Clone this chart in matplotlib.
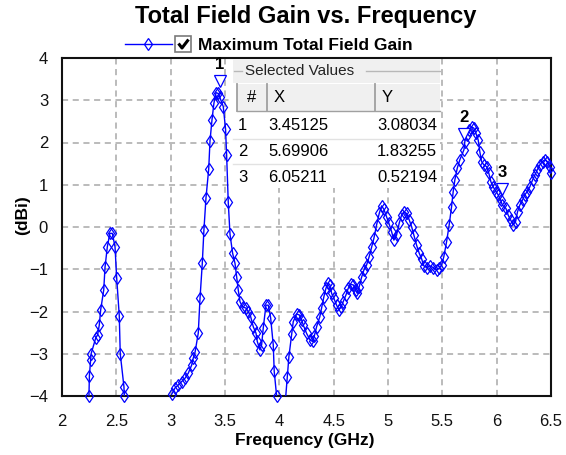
import numpy as np
import matplotlib.pyplot as plt
from matplotlib.patches import Rectangle
from matplotlib.transforms import offset_copy

plt.rcParams['font.family'] = ['Liberation Sans', 'DejaVu Sans']

# band around 2.45 GHz
freq_1 = [2.248, 2.252, 2.264, 2.268, 2.310, 2.328, 2.343, 2.356, 2.384, 2.396,
          2.417, 2.440, 2.463, 2.488, 2.503, 2.527, 2.536, 2.570, 2.573]
gain_1 = [-4.00, -3.52, -3.15, -3.00, -2.63, -2.55, -2.32, -1.96, -1.49, -0.95,
          -0.47, -0.15, -0.15, -0.47, -1.20, -2.10, -3.00, -3.78, -4.00]

# band around 3.45 GHz
freq_2 = [3.009, 3.040, 3.070, 3.101, 3.132, 3.162, 3.193, 3.208, 3.224, 3.254,
          3.270, 3.291, 3.306, 3.325, 3.350, 3.362, 3.380, 3.398, 3.417, 3.438,
          3.451, 3.484, 3.505, 3.515, 3.530, 3.546, 3.570, 3.592, 3.607, 3.622,
          3.638, 3.662, 3.693, 3.714, 3.736, 3.760, 3.785, 3.797, 3.822, 3.837,
          3.852, 3.877, 3.898, 3.920, 3.944, 3.953, 3.975]
gain_2 = [-3.96, -3.81, -3.74, -3.66, -3.58, -3.46, -3.27, -3.10, -2.97, -2.51,
          -1.69, -0.86, -0.07, 0.69, 1.37, 2.04, 2.53, 2.93, 3.18, 3.16,
          3.08, 2.85, 2.32, 1.70, 0.58, -0.17, -0.62, -0.86, -1.18, -1.49,
          -1.77, -1.89, -1.92, -2.00, -2.12, -2.36, -2.51, -2.71, -2.91, -2.79,
          -2.39, -1.85, -1.85, -2.15, -2.79, -3.42, -4.00]

# 4 - 6.5 GHz
freq_3 = [4.050, 4.073, 4.088, 4.113, 4.128, 4.159, 4.183, 4.205, 4.220, 4.251,
          4.282, 4.306, 4.321, 4.343, 4.373, 4.389, 4.410, 4.429, 4.450, 4.466,
          4.481, 4.502, 4.527, 4.548, 4.567, 4.588, 4.613, 4.634, 4.656, 4.680,
          4.702, 4.717, 4.735, 4.757, 4.778, 4.803, 4.827, 4.849, 4.870, 4.895,
          4.919, 4.941, 4.962, 4.987, 5.008, 5.033, 5.054, 5.079, 5.103, 5.125,
          5.146, 5.171, 5.195, 5.217, 5.238, 5.263, 5.287, 5.309, 5.330, 5.355,
          5.385, 5.416, 5.447, 5.470, 5.493, 5.514, 5.539, 5.563, 5.585, 5.600,
          5.615, 5.637, 5.661, 5.699, 5.707, 5.723, 5.747, 5.769, 5.790, 5.809,
          5.830, 5.845, 5.861, 5.882, 5.907, 5.928, 5.947, 5.968, 5.993, 6.014,
          6.036, 6.052, 6.085, 6.106, 6.128, 6.152, 6.174, 6.192, 6.213, 6.238,
          6.259, 6.281, 6.305, 6.330, 6.351, 6.373, 6.397, 6.422, 6.443, 6.465,
          6.489, 6.500]
gain_3 = [-4.30, -3.56, -3.07, -2.54, -2.24, -2.06, -2.08, -2.20, -2.32, -2.52,
          -2.67, -2.71, -2.59, -2.36, -2.12, -1.92, -1.65, -1.45, -1.33, -1.37,
          -1.57, -1.69, -1.85, -1.96, -1.90, -1.77, -1.61, -1.45, -1.36, -1.37,
          -1.49, -1.57, -1.41, -1.19, -1.02, -0.90, -0.70, -0.48, -0.27, 0.05,
          0.32, 0.50, 0.42, 0.24, 0.09, -0.11, -0.31, -0.19, 0.09, 0.28,
          0.36, 0.32, 0.17, 0.01, -0.19, -0.43, -0.62, -0.75, -0.92, -0.96,
          -0.92, -0.96, -1.02, -0.98, -0.90, -0.70, -0.35, 0.05, 0.48, 0.84,
          1.11, 1.39, 1.59, 1.83, 2.02, 2.18, 2.30, 2.37, 2.34, 2.22,
          2.06, 1.78, 1.55, 1.47, 1.43, 1.27, 1.07, 0.95, 0.84, 0.76,
          0.64, 0.52, 0.44, 0.28, 0.17, 0.05, 0.13, 0.36, 0.52, 0.64,
          0.76, 0.84, 0.95, 1.11, 1.23, 1.35, 1.47, 1.55, 1.59, 1.55,
          1.43, 1.27]

sel_id = ['1', '2', '3']
sel_x = [3.45125, 5.69906, 6.05211]
sel_y = [3.08034, 1.83255, 0.52194]

x_ticks = [2, 2.5, 3, 3.5, 4, 4.5, 5, 5.5, 6, 6.5]
x_labels = ['2', '2.5', '3', '3.5', '4', '4.5', '5', '5.5', '6', '6.5']
y_ticks = [-4, -3, -2, -1, 0, 1, 2, 3, 4]

BLUE = '#0000ff'
W, H = 566, 455

freq = np.concatenate([freq_1, [np.nan], freq_2, [np.nan], freq_3])
gain = np.concatenate([gain_1, [np.nan], gain_2, [np.nan], gain_3])

fig = plt.figure(figsize=(W / 100, H / 100), dpi=100)
ax = fig.add_axes([62 / W, 1 - 396 / H, (551 - 62) / W, (396 - 58) / H])

ax.plot(freq, gain, color=BLUE, lw=1.0, zorder=3)
vis = gain >= -4
ax.plot(freq[vis], gain[vis], ls='none', marker='d', ms=6.5, mfc='none',
        mec=BLUE, mew=0.9, clip_on=False, zorder=4)

# marker triangles + labels
tri_tr = offset_copy(ax.transData, fig=fig, x=0, y=16, units='dots')
txt_tr = offset_copy(ax.transData, fig=fig, x=0, y=32, units='dots')
for i, sx, sy in zip(sel_id, sel_x, sel_y):
    ax.plot(sx, sy, marker='v', ms=9, mfc='white', mec=BLUE, mew=0.9,
            transform=tri_tr, clip_on=False, zorder=5)
    ax.text(sx, sy, i, transform=txt_tr, ha='center', va='center',
            fontsize=12, fontweight='bold', clip_on=False, zorder=5)

ax.set_xlim(2, 6.5)
ax.set_ylim(-4, 4)
ax.set_xticks(x_ticks)
ax.set_xticklabels(x_labels)
ax.set_yticks(y_ticks)
ax.grid(True, color='#a8a8a8', ls=(0, (4, 3)), lw=1.1)
ax.tick_params(length=0, labelsize=12, colors='#111111')
ax.tick_params(axis='x', pad=13)
ax.tick_params(axis='y', pad=10)
for s in ax.spines.values():
    s.set_linewidth(1.5)
    s.set_color('#111111')

fig.text(306 / W, 1 - 17 / H, 'Total Field Gain vs. Frequency', ha='center',
         va='center', fontsize=17, fontweight='bold')
fig.text(305 / W, 1 - 441 / H, 'Frequency (GHz)', ha='center', va='center',
         fontsize=12.5, fontweight='bold')
fig.text(23 / W, 1 - 215 / H, '(dBi)', ha='center', va='center', rotation=90,
         fontsize=12.5, fontweight='bold')

# overlay in pixel coordinates for legend and value box
ov = fig.add_axes([0, 0, 1, 1], zorder=10)
ov.set_xlim(0, W)
ov.set_ylim(H, 0)
ov.axis('off')

ov.plot([125, 172], [44, 44], color=BLUE, lw=1.0)
ov.plot([148], [44], marker='d', ms=6.5, mfc='none', mec=BLUE, mew=0.9)
ov.add_patch(Rectangle((175, 36), 16, 16, fc='white', ec='#7a7a7a', lw=1.2))
ov.plot([178.5, 182, 188.5], [43.5, 48, 39.5], color='black', lw=2.2,
        solid_capstyle='butt')
ov.text(198, 45, 'Maximum Total Field Gain', ha='left', va='center',
        fontsize=12.5, fontweight='bold')

# Selected Values box
ov.add_patch(Rectangle((233, 59), 207, 129, fc='white', ec='none'))
ov.add_patch(Rectangle((233, 59), 207, 24, fc='#f0f0f0', ec='none'))
ov.plot([234, 242], [71, 71], color='#b8b8b8', lw=1)
ov.plot([366, 440], [71, 71], color='#b8b8b8', lw=1)
ov.text(245, 71, 'Selected Values', ha='left', va='center', fontsize=11,
        color='#222222')
ov.add_patch(Rectangle((237, 84), 203, 27, fc='#f0f0f0', ec='none'))
ov.plot([237, 440], [111, 111], color='#a0a0a0', lw=1)
for cx in [237, 267, 375]:
    ov.plot([cx, cx], [84, 111], color='#a0a0a0', lw=1.3)
ov.text(252, 98, '#', ha='center', va='center', fontsize=12)
ov.text(274, 98, 'X', ha='left', va='center', fontsize=12)
ov.text(382, 98, 'Y', ha='left', va='center', fontsize=12)
row_y = [126, 152, 177]
for ry, i, sx, sy in zip(row_y, sel_id, sel_x, sel_y):
    ov.text(238, ry, i, ha='left', va='center', fontsize=12)
    ov.text(268, ry, f'{sx:.5f}', ha='left', va='center', fontsize=12)
    ov.text(377, ry, f'{sy:.5f}', ha='left', va='center', fontsize=12)
for ly in [139, 164]:
    ov.plot([233, 440], [ly, ly], color='#e2e2e2', lw=1)

fig.savefig('out.png', dpi=100)
